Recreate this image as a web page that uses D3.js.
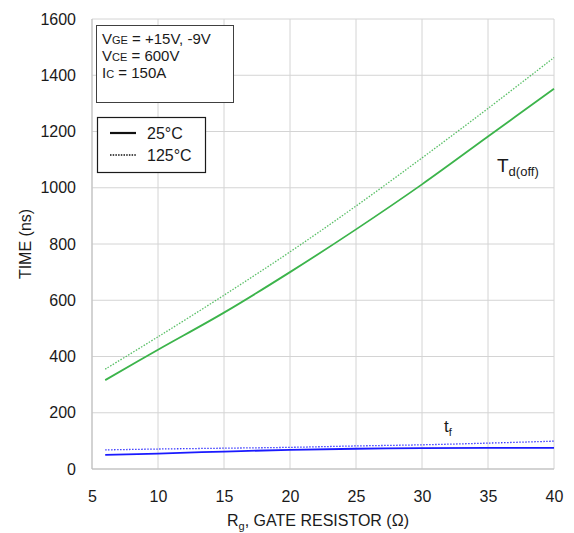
<!DOCTYPE html>
<html><head><meta charset="utf-8">
<script src="https://cdn.jsdelivr.net/npm/d3@7"></script>
<style>
body{margin:0;background:#fff;}
svg{display:block;font-family:"Liberation Sans",Arial,sans-serif;}
</style></head>
<body><svg id="c" width="574" height="533"></svg>
<script>
const rg = [6, 10, 15, 20, 25, 30, 35, 40];
const tdoff25 = [316, 424, 556, 700, 852, 1012, 1182, 1352];
const tdoff125 = [355, 470, 618, 772, 935, 1106, 1282, 1463];
const tf25 = [50, 55, 62, 68, 72, 74, 75, 75];
const tf125 = [68, 71, 74, 77, 82, 86, 92, 99];
const xTicks = [5, 10, 15, 20, 25, 30, 35, 40];
const yTicks = [0, 200, 400, 600, 800, 1000, 1200, 1400, 1600];

const svg = d3.select("#c");
const m = {l:92, r:20, t:19, b:64};
const W = 574, H = 533;
const x = d3.scaleLinear().domain([5, 40]).range([m.l, W - m.r]);
const y = d3.scaleLinear().domain([0, 1600]).range([H - m.b, m.t]);

// grid
const g = svg.append("g");
g.selectAll("line.v").data(xTicks).join("line")
  .attr("x1", d => x(d)).attr("x2", d => x(d))
  .attr("y1", y(0)).attr("y2", y(1600))
  .attr("stroke", "#d4d4d4").attr("stroke-width", 1);
g.selectAll("line.h").data(yTicks).join("line")
  .attr("y1", d => y(d)).attr("y2", d => y(d))
  .attr("x1", x(5)).attr("x2", x(40))
  .attr("stroke", "#d4d4d4").attr("stroke-width", 1);
// axis lines
svg.append("line").attr("x1", x(5)).attr("x2", x(5)).attr("y1", y(0)).attr("y2", y(1600)).attr("stroke", "#bdbdbd");
svg.append("line").attr("x1", x(5)).attr("x2", x(40)).attr("y1", y(0)).attr("y2", y(0)).attr("stroke", "#bdbdbd");

// axes labels via d3 axes
const xAxis = svg.append("g").attr("transform", `translate(0,${y(0)})`)
  .call(d3.axisBottom(x).tickValues(xTicks).tickSize(0).tickPadding(22).tickFormat(d3.format("d")));
xAxis.select(".domain").remove();
xAxis.selectAll("text").attr("font-size", 16).attr("fill", "#1a1a1a").attr("font-family", "Liberation Sans, Arial, sans-serif");
const yAxis = svg.append("g").attr("transform", `translate(${x(5)},0)`)
  .call(d3.axisLeft(y).tickValues(yTicks).tickSize(0).tickPadding(16).tickFormat(d3.format("d")));
yAxis.select(".domain").remove();
yAxis.selectAll("text").attr("font-size", 16).attr("fill", "#1a1a1a").attr("font-family", "Liberation Sans, Arial, sans-serif");

// titles
const xt = svg.append("text").attr("x", (x(5)+x(40))/2 - 5).attr("y", 526).attr("text-anchor", "middle")
  .attr("font-size", 16).attr("fill", "#1a1a1a");
xt.append("tspan").text("R");
xt.append("tspan").attr("font-size", 11).attr("dy", 4).text("g");
xt.append("tspan").attr("dy", -4).text(", GATE RESISTOR (Ω)");
svg.append("text").attr("transform", `translate(31,${(y(0)+y(1600))/2}) rotate(-90)`)
  .attr("text-anchor", "middle").attr("font-size", 16).attr("fill", "#1a1a1a").text("TIME (ns)");

// lines
const line = d3.line().x(d => x(d[0])).y(d => y(d[1])).curve(d3.curveCatmullRom.alpha(0.5));
const green = "#3cb44b", blue = "#1a1aff";
function draw(vals, color, dotted) {
  svg.append("path").datum(rg.map((r, i) => [r, vals[i]]))
    .attr("d", line).attr("fill", "none").attr("stroke", color)
    .attr("stroke-width", dotted ? 1.3 : 1.8)
    .attr("stroke-dasharray", dotted ? "1.5,1.5" : null)
    .attr("opacity", dotted ? 0.85 : 1);
}
draw(tdoff125, green, true);
draw(tdoff25, green, false);
draw(tf125, blue, true);
draw(tf25, blue, false);

// curve labels
const tl = svg.append("text").attr("x", 497).attr("y", 172).attr("font-size", 19).attr("fill", "#1a1a1a");
tl.append("tspan").text("T");
tl.append("tspan").attr("font-size", 13).attr("dy", 4).text("d(off)");
const fl = svg.append("text").attr("x", 444).attr("y", 432).attr("font-size", 17).attr("fill", "#1a1a1a");
fl.append("tspan").text("t");
fl.append("tspan").attr("font-size", 11).attr("dy", 4).text("f");

// condition box
svg.append("rect").attr("x", 96.5).attr("y", 25.5).attr("width", 137).attr("height", 77)
  .attr("fill", "#fff").attr("stroke", "#404040").attr("stroke-width", 1);
const cond = [["V","GE"," = +15V, -9V"],["V","CE"," = 600V"],["I","C"," = 150A"]];
cond.forEach((c, i) => {
  const t = svg.append("text").attr("x", 102).attr("y", 44 + i*17).attr("font-size", 15).attr("fill", "#1a1a1a");
  t.append("tspan").text(c[0]);
  t.append("tspan").attr("font-size", 11).text(c[1]);
  t.append("tspan").text(c[2]);
});

// legend
svg.append("rect").attr("x", 97.5).attr("y", 117.5).attr("width", 108).attr("height", 55)
  .attr("fill", "#fff").attr("stroke", "#1a1a1a").attr("stroke-width", 1.2);
const leg = [["25°C", false], ["125°C", true]];
leg.forEach((d, i) => {
  const yy = 133 + i*22;
  svg.append("line").attr("x1", 110).attr("x2", 136).attr("y1", yy).attr("y2", yy)
    .attr("stroke", "#111").attr("stroke-width", d[1] ? 1.6 : 2.2)
    .attr("stroke-dasharray", d[1] ? "1.5,1.2" : null);
  svg.append("text").attr("x", 147).attr("y", yy + 6).attr("font-size", 16).attr("fill", "#1a1a1a").text(d[0]);
});
</script></body></html>
